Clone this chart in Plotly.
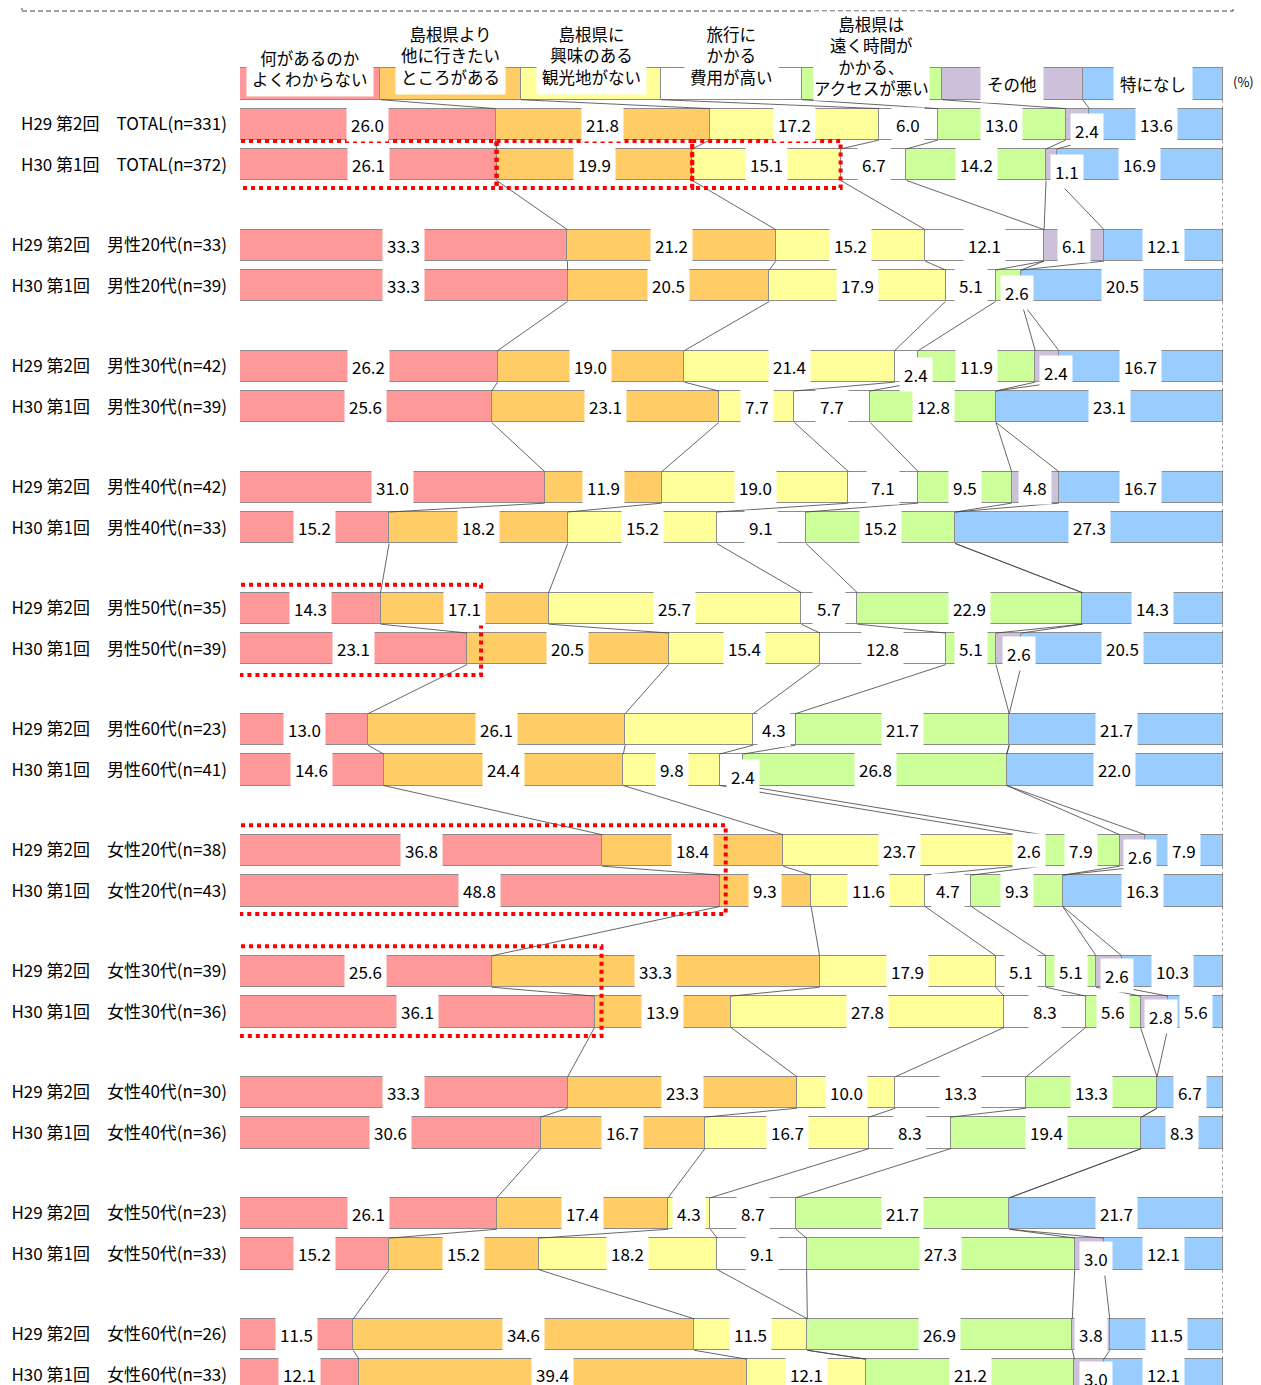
import plotly.graph_objects as go

# ---------------- data ----------------
groups = ["TOTAL", "男性20代", "男性30代", "男性40代", "男性50代", "男性60代",
          "女性20代", "女性30代", "女性40代", "女性50代", "女性60代"]
n_h29 = [331, 33, 42, 42, 35, 23, 38, 39, 30, 23, 26]
n_h30 = [372, 39, 39, 33, 39, 41, 43, 36, 36, 33, 33]
waves = ["H29 第2回", "H30 第1回"]

categories = ["何があるのか<br>よくわからない",
              "島根県より<br>他に行きたい<br>ところがある",
              "島根県に<br>興味のある<br>観光地がない",
              "旅行に<br>かかる<br>費用が高い",
              "島根県は<br>遠く時間が<br>かかる、<br>アクセスが悪い",
              "その他",
              "特になし"]
colors = ["#FF9999", "#FFCC66", "#FFFF99", "#FFFFFF", "#CCFF99", "#CCC0DA", "#99CCFF"]

# row order: (H29, H30) for each group
unknown   = [26.0, 26.1, 33.3, 33.3, 26.2, 25.6, 31.0, 15.2, 14.3, 23.1, 13.0, 14.6,
             36.8, 48.8, 25.6, 36.1, 33.3, 30.6, 26.1, 15.2, 11.5, 12.1]
elsewhere = [21.8, 19.9, 21.2, 20.5, 19.0, 23.1, 11.9, 18.2, 17.1, 20.5, 26.1, 24.4,
             18.4, 9.3, 33.3, 13.9, 23.3, 16.7, 17.4, 15.2, 34.6, 39.4]
no_spot   = [17.2, 15.1, 15.2, 17.9, 21.4, 7.7, 19.0, 15.2, 25.7, 15.4, 13.0, 9.8,
             23.7, 11.6, 17.9, 27.8, 10.0, 16.7, 4.3, 18.2, 11.5, 12.1]
cost      = [6.0, 6.7, 12.1, 5.1, 2.4, 7.7, 7.1, 9.1, 5.7, 12.8, 4.3, 2.4,
             2.6, 4.7, 5.1, 8.3, 13.3, 8.3, 8.7, 9.1, 0.0, 0.0]
access    = [13.0, 14.2, 0.0, 2.6, 11.9, 12.8, 9.5, 15.2, 22.9, 5.1, 21.7, 26.8,
             7.9, 9.3, 5.1, 5.6, 13.3, 19.4, 21.7, 27.3, 26.9, 21.2]
other     = [2.4, 1.1, 6.1, 0.0, 2.4, 0.0, 4.8, 0.0, 0.0, 2.6, 0.0, 0.0,
             2.6, 0.0, 2.6, 2.8, 0.0, 0.0, 0.0, 3.0, 3.8, 3.0]
nothing   = [13.6, 16.9, 12.1, 20.5, 16.7, 23.1, 16.7, 27.3, 14.3, 20.5, 21.7, 22.0,
             7.9, 16.3, 10.3, 5.6, 6.7, 8.3, 21.7, 12.1, 11.5, 12.1]
series = [unknown, elsewhere, no_spot, cost, access, other, nothing]

# labels not shown in the source chart
hidden_labels = {(10, 2)}
# labels moved off their segment (row, series): (dx px, dy px)
label_moves = {(0, 5): (9, 6), (1, 5): (16, 7), (3, 4): (9, 7), (4, 3): (10, 8),
               (4, 5): (9, 6), (9, 5): (10, 5), (11, 3): (11, 7), (12, 5): (8, 6),
               (14, 5): (8, 4), (15, 5): (7, 5), (19, 5): (7, 5), (21, 5): (7, 4)}

# ---------------- layout geometry ----------------
OFF = 8                 # page body margin
W, H = 1261 - OFF, 1385 - OFF
PX_L, PX_R = 240 - OFF, 1223 - OFF
UNIT = 40.34            # px per row unit
Y0PX = 84 - OFF         # px of legend row
BW = 0.78               # bar thickness in row units
FONT = "Noto Sans CJK JP"

nrows = len(unknown)
row_y = [1 + 3 * (i // 2) + (i % 2) for i in range(nrows)]
all_y = [0] + row_y
row_text = []
for g, name in enumerate(groups):
    row_text.append(f"{waves[0]}\u3000{name}(n={n_h29[g]})")
    row_text.append(f"{waves[1]}\u3000{name}(n={n_h30[g]})")

xpp = 100.0 / (PX_R - PX_L)   # x units per px
ypp = 1.0 / UNIT              # y units per px

# rows including the legend row (equal parts)
rows_vals = [[1.0] * 7] + [[s[i] for s in series] for i in range(nrows)]
cum = []
for vals in rows_vals:
    tot = sum(vals)
    c, acc = [], 0.0
    for v in vals:
        acc += v
        c.append(acc / tot * 100)
    cum.append(c)

fig = go.Figure()
for k in range(7):
    fig.add_trace(go.Bar(
        y=all_y, x=[1.0] + series[k], orientation="h", width=BW,
        marker=dict(color=colors[k], line=dict(color="#8C8C8C", width=1.5)),
        hoverinfo="skip", showlegend=False))

# series lines
lx, ly, rx, ry = [], [], [], []
for k in range(7):
    for r in range(len(all_y) - 1):
        xa, xb = cum[r][k], cum[r + 1][k]
        ya, yb = all_y[r] + BW / 2, all_y[r + 1] - BW / 2
        if k == 6:
            rx += [xa, xb, None]; ry += [ya, yb, None]
        else:
            lx += [xa, xb, None]; ly += [ya, yb, None]
fig.add_trace(go.Scatter(x=lx, y=ly, mode="lines", line=dict(color="#404040", width=0.8),
                         hoverinfo="skip", showlegend=False))
fig.add_trace(go.Scatter(x=rx, y=ry, mode="lines", line=dict(color="#404040", width=1, dash="dot"),
                         hoverinfo="skip", showlegend=False))

annotations = []
# legend row labels
legend_yshift = [15.5, 29, 29, 29, 28, 0, 0]
legend_pad = [5, 5, 5, 5, 0, 6, 6]
for k in range(7):
    c0 = cum[0][k - 1] if k else 0.0
    annotations.append(dict(x=(c0 + cum[0][k]) / 2, y=0, xref="x", yref="y", text=categories[k],
                            showarrow=False, bgcolor="white", borderpad=legend_pad[k],
                            font=dict(family=FONT, size=16.5, color="black"),
                            yshift=legend_yshift[k]))
# value labels
for i in range(nrows):
    r = i + 1
    for k in range(7):
        v = series[k][i]
        if v <= 0 or (i, k) in hidden_labels:
            continue
        c0 = cum[r][k - 1] if k else 0.0
        dx, dy = label_moves.get((i, k), (0, 0))
        annotations.append(dict(x=(c0 + cum[r][k]) / 2, y=row_y[i], xref="x", yref="y",
                                text=f"{v:.1f}", showarrow=False, bgcolor="white", borderpad=4,
                                font=dict(family=FONT, size=17, color="black"),
                                xshift=dx, yshift=-dy))
annotations.append(dict(x=(1243 - OFF) / W, y=1 - (81 - OFF) / H, xref="paper", yref="paper",
                        xanchor="center", yanchor="middle",
                        text="(%)", showarrow=False, font=dict(family=FONT, size=13, color="black")))

# highlight rectangles
shapes = []
def hl(x0, x1, ra, rb, pad_top, pad_bot):
    shapes.append(dict(type="rect", xref="x", yref="y", x0=x0, x1=x1,
                       y0=row_y[ra] - BW / 2 - pad_top * ypp, y1=row_y[rb] + BW / 2 + pad_bot * ypp,
                       line=dict(color="#FF0000", width=4, dash="dot"), layer="above"))
hl(-7 * xpp, cum[2][0], 1, 1, 8, 7.5)
hl(cum[2][0], cum[2][1], 1, 1, 8, 7.5)
hl(cum[2][1], cum[2][2], 1, 1, 8, 7.5)
hl(-7 * xpp, cum[10][0] + 14 * xpp, 8, 9, 8, 10.5)
hl(-7 * xpp, cum[14][0] + 6 * xpp, 12, 13, 9.5, 7.5)
hl(-7 * xpp, cum[16][0] + 7 * xpp, 14, 15, 9.5, 8.5)
# top dashed frame
shapes.append(dict(type="rect", xref="paper", yref="paper", x0=(22 - OFF) / W, x1=(1233 - OFF) / W,
                   y0=1 - (11 - OFF) / H, y1=1.05, line=dict(color="#404040", width=1, dash="5px,3px")))

fig.update_layout(
    width=W, height=H, margin=dict(l=0, r=0, t=0, b=0),
    paper_bgcolor="white", plot_bgcolor="white",
    barmode="stack", barnorm="percent", bargap=0,
    xaxis=dict(domain=[PX_L / W, PX_R / W], range=[0, 100], showgrid=False, zeroline=False,
               showticklabels=False, showline=False, fixedrange=True),
    yaxis=dict(range=[(H - Y0PX) / UNIT, -Y0PX / UNIT], showgrid=False, zeroline=False,
               tickvals=row_y, ticktext=row_text, ticks="", ticklabelstandoff=12,
               ticklabeloverflow="allow",
               tickfont=dict(family=FONT, size=17, color="black"), showline=False),
    annotations=annotations, shapes=shapes,
    font=dict(family=FONT),
)
fig.write_html("out.html")
